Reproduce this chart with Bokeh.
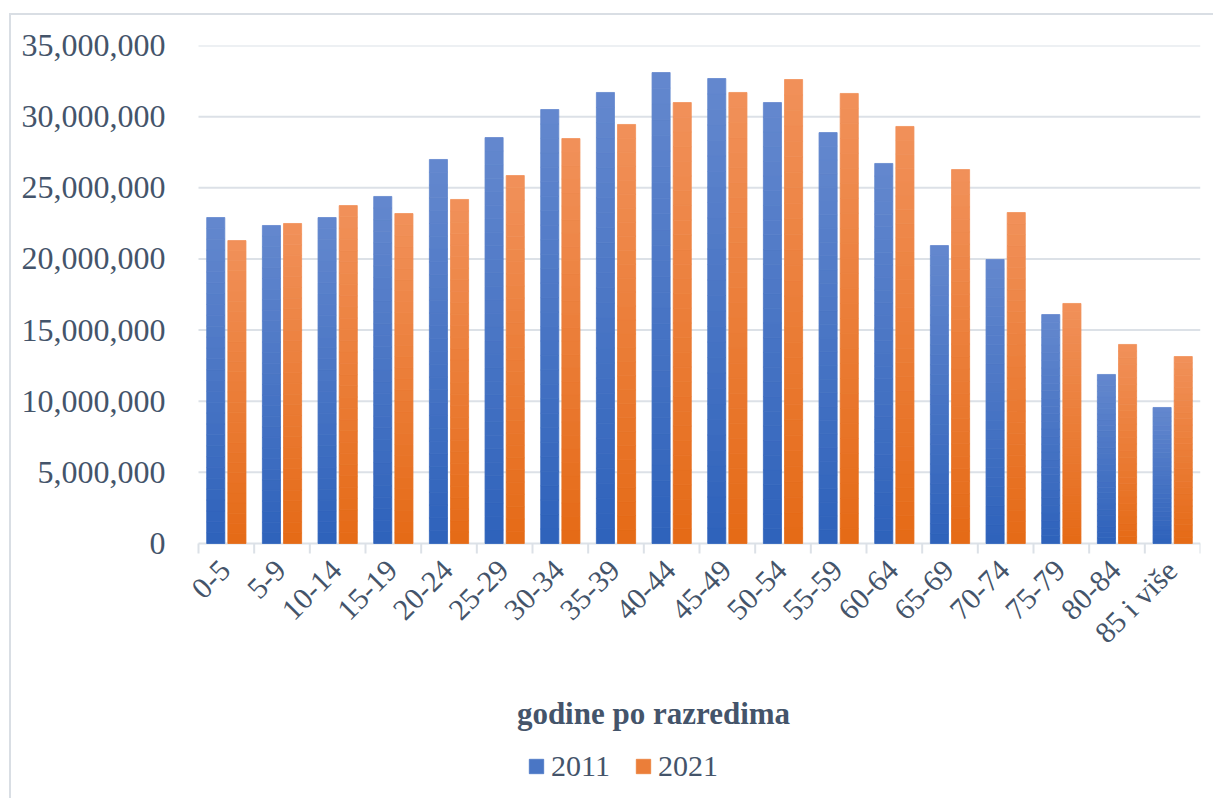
import numpy as np
from bokeh.plotting import figure
from bokeh.models import (FixedTicker, Range1d, NumeralTickFormatter,
                          Legend, LegendItem, Label)
from bokeh.embed import file_html
from bokeh.resources import INLINE

categories = ["0-5", "5-9", "10-14", "15-19", "20-24", "25-29", "30-34", "35-39",
              "40-44", "45-49", "50-54", "55-59", "60-64", "65-69", "70-74",
              "75-79", "80-84", "85 i više"]
pop_2011 = [22910000, 22350000, 22910000, 24390000, 26990000, 28530000, 30500000,
            31700000, 33100000, 32680000, 30990000, 28880000, 26710000, 20940000,
            19960000, 16090000, 11880000, 9560000]
pop_2021 = [21290000, 22490000, 23750000, 23190000, 24180000, 25860000, 28460000,
            29450000, 30990000, 31700000, 32610000, 31630000, 29310000, 26280000,
            23260000, 16870000, 13990000, 13140000]
series_names = ["2011", "2021"]
y_ticks = [0, 5000000, 10000000, 15000000, 20000000, 25000000, 30000000, 35000000]
x_title = "godine po razredima"

FONT = "Liberation Serif"
TXT = "#44546A"
GRID = "#DCE1E7"

n = len(categories)
y_max = y_ticks[-1]
px_per_unit = 498 / y_max          # 35M spans 498 px
y_min = -253 / px_per_unit          # room below the axis for labels/legend
px_per_cat = 1002 / n
x_min = -17 / px_per_cat            # small room left of the first category

p = figure(width=1204, height=785, output_backend="svg", toolbar_location=None,
           x_range=Range1d(x_min, n), y_range=Range1d(y_min, y_max),
           x_axis_location=None,
           min_border_left=170, min_border_right=15, min_border_top=30,
           min_border_bottom=4)
p.styles = {"border-top": "2px solid #D9DEE4", "border-left": "2px solid #D9DEE4",
            "margin-left": "9px", "margin-top": "13px"}
p.outline_line_color = None
p.background_fill_color = "white"
p.border_fill_color = "white"

def lerp(c1, c2, t):
    a = np.array([int(c1[i:i + 2], 16) for i in (1, 3, 5)], dtype=float)
    b = np.array([int(c2[i:i + 2], 16) for i in (1, 3, 5)], dtype=float)
    c = a + (b - a) * t
    return "#%02x%02x%02x" % tuple(int(round(v)) for v in c)

# y axis
p.yaxis.ticker = FixedTicker(ticks=y_ticks)
p.yaxis.formatter = NumeralTickFormatter(format="0,0")
p.yaxis.axis_line_color = None
p.yaxis.major_tick_line_color = None
p.yaxis.minor_tick_line_color = None
p.yaxis.major_label_standoff = 10
p.yaxis.major_label_text_font = FONT
p.yaxis.major_label_text_font_size = "32px"
p.yaxis.major_label_text_color = TXT
p.ygrid.visible = False
p.xgrid.visible = False

# horizontal grid lines spanning the category area
yt = np.array(y_ticks, dtype=float)
p.segment(x0=np.zeros(len(yt)), x1=np.full(len(yt), n), y0=yt, y1=yt,
          line_color=GRID, line_width=2, level="underlay")

# category boundary ticks
bounds = np.arange(n + 1)
tick_len = 10 / px_per_unit
p.segment(x0=bounds, x1=bounds, y0=0, y1=-tick_len, line_color=GRID, line_width=2)

# gradient bars (stacked slices, darker at the bottom)
grads = [("#2E62BB", "#6488CE"), ("#E56A16", "#F1915A")]
centers = np.arange(n) + 0.5
offsets = [-0.19, 0.19]
N = 30
legend_items = []
for s, (vals, (cb, ct)) in enumerate(zip([pop_2011, pop_2021], grads)):
    vals = np.array(vals, dtype=float)
    mid_r = None
    for k in range(N):
        col = lerp(cb, ct, (k + 0.5) / N)
        r = p.vbar(x=centers + offsets[s], width=0.325,
                   bottom=vals * k / N, top=vals * (k + 1) / N,
                   fill_color=col, line_color=col, line_width=0.8)
        if k == N // 2:
            mid_r = r
    legend_items.append(LegendItem(label=series_names[s], renderers=[mid_r]))

# category labels
p.text(x=centers, y=np.zeros(n), text=categories, angle=np.pi / 4,
       x_offset=-1, y_offset=22, text_align="right", text_baseline="middle",
       text_font={"value": FONT}, text_font_size={"value": "30px"},
       text_color=TXT)

title = Label(x=(653 - 198) / px_per_cat, y=-170 / px_per_unit, text=x_title,
              text_align="center", text_baseline="middle", text_font=FONT,
              text_font_size="31px", text_font_style="bold", text_color=TXT)
p.add_layout(title)

legend = Legend(items=legend_items, location=(346, 13), orientation="horizontal",
                label_text_font=FONT, label_text_font_size="30px",
                label_text_color=TXT, glyph_width=18, glyph_height=18,
                label_height=18, label_standoff=6, spacing=24, padding=0,
                margin=0, border_line_color=None, background_fill_alpha=0)
p.add_layout(legend, "center")

open("out.html", "w").write(file_html(p, INLINE))
